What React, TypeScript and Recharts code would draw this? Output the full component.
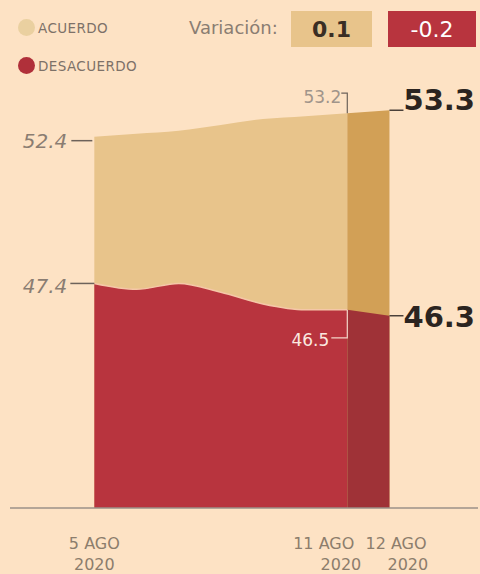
import { AreaChart, Area, XAxis, YAxis } from "recharts";

// days of August 2020
const days = [5, 6, 7, 8, 9, 10, 11, 12];
const acuerdo = [52.4, 52.5, 52.6, 52.8, 53.0, 53.1, 53.2, null];
const desacuerdo = [47.4, 47.2, 47.4, 47.1, 46.7, 46.5, 46.5, null];
// last day (11 -> 12 AGO) drawn darker
const acuerdoUltimo = [null, null, null, null, null, null, 53.2, 53.3];
const desacuerdoUltimo = [null, null, null, null, null, null, 46.5, 46.3];

const tickDays = [5, 11, 12];
const tickLabels = ["5 AGO", "11 AGO", "12 AGO"];
const tickYear = "2020";
const variacion = ["0.1", "-0.2"];

const BG = "#fde2c4";
const TAN = "#e8c48b";
const TAN_DARK = "#d2a056";
const RED = "#b8343e";
const RED_DARK = "#9f3237";
const GRAY = "#8a7d72";
const FONT = "'DejaVu Sans', sans-serif";

const data = days.map((d, i) => ({
  dia: d,
  acuerdo: acuerdo[i],
  desacuerdo: desacuerdo[i],
  acuerdoUltimo: acuerdoUltimo[i],
  desacuerdoUltimo: desacuerdoUltimo[i],
}));

const fmt = (v: number | null) => (v == null ? "" : v.toFixed(1));

const AcuerdoLabel = (p: any) => {
  const { x, y, index } = p;
  if (x == null || y == null) return null;
  if (index === 0) {
    return (
      <g>
        <text x={x - 27} y={y + 4} textAnchor="end" dominantBaseline="central" fontSize={20} fontStyle="italic" fill={GRAY} fontFamily={FONT}>
          {fmt(acuerdo[index])}
        </text>
        <line x1={x - 23} y1={y + 4} x2={x - 2} y2={y + 4} stroke="#6d625a" strokeWidth={1.5} />
      </g>
    );
  }
  if (index === 6) {
    return (
      <g>
        <text x={x - 6} y={y - 16} textAnchor="end" dominantBaseline="central" fontSize={17} fill="#a0948a" fontFamily={FONT}>
          {fmt(acuerdo[index])}
        </text>
        <polyline points={`${x - 6},${y - 20} ${x},${y - 20} ${x},${y}`} fill="none" stroke="#6d625a" strokeWidth={1.2} />
      </g>
    );
  }
  return null;
};

const DesacuerdoLabel = (p: any) => {
  const { x, y, index } = p;
  if (x == null || y == null) return null;
  if (index === 0) {
    return (
      <g>
        <text x={x - 27} y={y + 3} textAnchor="end" dominantBaseline="central" fontSize={20} fontStyle="italic" fill={GRAY} fontFamily={FONT}>
          {fmt(desacuerdo[index])}
        </text>
        <line x1={x - 24} y1={y} x2={x} y2={y} stroke="#6d625a" strokeWidth={1.5} />
      </g>
    );
  }
  if (index === 6) {
    return (
      <g>
        <text x={x - 18} y={y + 30} textAnchor="end" dominantBaseline="central" fontSize={17} fill="#fbe9e0" fontFamily={FONT}>
          {fmt(desacuerdo[index])}
        </text>
        <polyline points={`${x},${y} ${x},${y + 28} ${x - 16},${y + 28}`} fill="none" stroke="#f3d4c8" strokeWidth={1.2} />
      </g>
    );
  }
  return null;
};

const FinalLabel = (values: (number | null)[], dy: number) => (p: any) => {
  const { x, y, index } = p;
  if (x == null || y == null || index !== 7) return null;
  return (
    <g>
      <line x1={x} y1={y} x2={x + 14} y2={y} stroke="#4a403a" strokeWidth={1.5} />
      <text x={x + 14} y={y + dy} dominantBaseline="central" fontSize={29} fontWeight="bold" fill="#2b2420" fontFamily={FONT}>
        {fmt(values[index])}
      </text>
    </g>
  );
};

const DateTick = (props: any) => {
  const { x, y, payload } = props;
  const i = tickDays.indexOf(payload.value);
  if (i < 0) return null;
  const anchor = i === 0 ? "middle" : i === 1 ? "end" : "start";
  const dx1 = i === 0 ? 0 : i === 1 ? 7 : -24;
  const dx2 = i === 0 ? 0 : i === 1 ? 14 : -2;
  return (
    <g fontFamily={FONT} fontSize={16} fill="#8c7d6c">
      <text x={x + dx1} y={y + 41} textAnchor={anchor}>{tickLabels[i]}</text>
      <text x={x + dx2} y={y + 62} textAnchor={anchor}>{tickYear}</text>
    </g>
  );
};

const legendText = { position: "absolute" as const, left: 38, lineHeight: "18px", fontFamily: FONT, fontSize: 13.5, letterSpacing: 0.4, color: "#7d7168" };

export default function App() {
  return (
    <div style={{ position: "absolute", left: 0, top: 0, width: 480, height: 574, background: BG, overflow: "hidden" }}>
      <AreaChart width={480} height={574} data={data} margin={{ top: 31, right: 2, left: 10, bottom: 6 }}>
        <XAxis
          dataKey="dia"
          type="number"
          domain={[3, 14.1]}
          allowDataOverflow
          ticks={tickDays}
          tick={<DateTick />}
          tickLine={false}
          tickSize={0}
          tickMargin={0}
          height={60}
          axisLine={{ stroke: "#9b9089", strokeWidth: 1.5 }}
        />
        <YAxis hide type="number" domain={[39.75, 56]} allowDataOverflow />
        <Area type="monotone" dataKey="acuerdo" stroke="none" fill={TAN} fillOpacity={1} isAnimationActive={false} dot={false} activeDot={false} label={AcuerdoLabel} />
        <Area type="monotone" dataKey="desacuerdo" stroke="#f5c7a8" strokeWidth={1.5} fill={RED} fillOpacity={1} isAnimationActive={false} dot={false} activeDot={false} label={DesacuerdoLabel} />
        <Area type="linear" dataKey="acuerdoUltimo" stroke="none" fill={TAN_DARK} fillOpacity={1} isAnimationActive={false} dot={false} activeDot={false} label={FinalLabel(acuerdoUltimo, -10)} />
        <Area type="linear" dataKey="desacuerdoUltimo" stroke="none" fill={RED_DARK} fillOpacity={1} isAnimationActive={false} dot={false} activeDot={false} label={FinalLabel(desacuerdoUltimo, 1)} />
      </AreaChart>

      {/* legend */}
      <div style={{ position: "absolute", left: 18, top: 19, width: 17, height: 17, borderRadius: 9, background: "#ead0a0" }} />
      <div style={{ ...legendText, top: 19 }}>ACUERDO</div>
      <div style={{ position: "absolute", left: 18, top: 57, width: 17, height: 17, borderRadius: 9, background: "#b0303a" }} />
      <div style={{ ...legendText, top: 57 }}>DESACUERDO</div>

      <div style={{ position: "absolute", left: 189, top: 17, lineHeight: "22px", fontFamily: FONT, fontSize: 18, color: "#8a7d72" }}>Variación:</div>
      <div style={{ position: "absolute", left: 291, top: 11, width: 81, height: 36, background: TAN, display: "flex", alignItems: "center", justifyContent: "center", fontFamily: FONT, fontWeight: "bold", fontSize: 22, color: "#3a2e24" }}>
        {variacion[0]}
      </div>
      <div style={{ position: "absolute", left: 388, top: 11, width: 88, height: 36, background: RED, display: "flex", alignItems: "center", justifyContent: "center", fontFamily: FONT, fontSize: 22, color: "#fff" }}>
        {variacion[1]}
      </div>
    </div>
  );
}
